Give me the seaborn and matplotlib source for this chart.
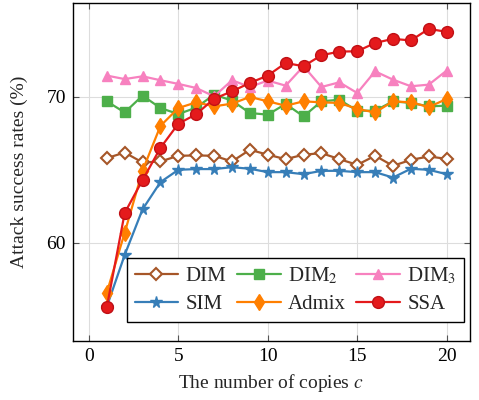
import numpy as np
import pandas as pd
import seaborn as sns
import matplotlib
matplotlib.use("Agg")
import matplotlib.pyplot as plt

copies = list(range(1, 21))
dim = [65.8, 66.18, 65.5, 65.57, 65.96, 65.98, 65.96, 65.57, 66.37, 66.03,
       65.73, 66.03, 66.14, 65.73, 65.34, 65.96, 65.27, 65.68, 65.91, 65.75]
dim2 = [69.68, 68.92, 70.07, 69.22, 68.81, 69.25, 70.14, 69.73, 68.88, 68.77,
        69.5, 68.65, 69.68, 69.79, 69.04, 69.04, 69.68, 69.57, 69.34, 69.38]
dim3 = [71.44, 71.2, 71.39, 71.12, 70.87, 70.59, 70.02, 71.12, 70.66, 71.1,
        70.75, 72.08, 70.66, 70.98, 70.25, 71.73, 71.16, 70.71, 70.82, 71.78]
sim = [55.64, 59.18, 62.3, 64.16, 65.0, 65.05, 65.05, 65.18, 65.07, 64.84,
       64.84, 64.7, 64.93, 64.93, 64.84, 64.84, 64.47, 65.07, 65.0, 64.7]
admix = [56.6, 60.7, 64.95, 68.0, 69.22, 69.61, 69.34, 69.52, 69.98, 69.68,
         69.38, 69.68, 69.61, 69.57, 69.16, 68.92, 69.68, 69.61, 69.29, 69.84]
ssa = [55.6, 62.05, 64.3, 66.5, 68.15, 68.8, 69.86, 70.36, 70.94, 71.44,
       72.3, 72.08, 72.83, 73.08, 73.1, 73.67, 73.95, 73.84, 74.63, 74.43]

names = ["DIM", "SIM", "DIM$_2$", "Admix", "DIM$_3$", "SSA"]
values = [dim, sim, dim2, admix, dim3, ssa]

sns.set_theme(style="whitegrid")
plt.rcParams['font.family'] = ['Liberation Serif', 'DejaVu Serif']
plt.rcParams['mathtext.fontset'] = 'stix'

styles = {
    "DIM": dict(color="#a65628", marker="D", mfc="white", mec="#a65628", ms=6.5, mew=1.5),
    "SIM": dict(color="#377eb8", marker="*", mfc="#377eb8", mec="#377eb8", ms=8.5, mew=1.0),
    "DIM$_2$": dict(color="#4daf4a", marker="s", mfc="#4daf4a", mec="#4daf4a", ms=7.5, mew=1.0),
    "Admix": dict(color="#ff7f00", marker="d", mfc="#ff7f00", mec="#ff7f00", ms=8, mew=1.0),
    "DIM$_3$": dict(color="#f781bf", marker="^", mfc="#f781bf", mec="#f781bf", ms=7.5, mew=1.0),
    "SSA": dict(color="#e41a1c", marker="o", mfc="#e41a1c", mec="#c01015", ms=8.5, mew=1.0),
}

fig = plt.figure(figsize=(4.79, 4.0), dpi=100)
ax = fig.add_axes([0.152, 0.1475, 0.829, 0.845])

for name, vals in zip(names, values):
    df = pd.DataFrame({"c": copies, "v": vals})
    st = styles[name]
    sns.lineplot(data=df, x="c", y="v", ax=ax, color=st["color"], marker=st["marker"],
                 markerfacecolor=st["mfc"], markeredgecolor=st["mec"],
                 markersize=st["ms"], markeredgewidth=st["mew"], linewidth=1.6,
                 label=name)

ax.set_xlim(-0.9, 21.3)
ax.set_ylim(53.3, 76.4)
ax.set_xticks([0, 5, 10, 15, 20])
ax.set_yticks([60, 70])
ax.grid(True, color="#dddddd", linewidth=0.8)
ax.set_facecolor("white")
for s in ax.spines.values():
    s.set_color("black")
    s.set_linewidth(1.0)
ax.tick_params(axis="both", direction="in", length=4, width=0.8, colors="#555555",
               labelcolor="black", labelsize=14, top=True, right=True,
               bottom=True, left=True, pad=5)
ax.set_xlabel("The number of copies $c$", fontsize=14, labelpad=5)
ax.set_ylabel("Attack success rates (%)", fontsize=14, labelpad=13)

leg = ax.legend(loc="lower right", ncol=3, fontsize=15, frameon=True, fancybox=False,
                edgecolor="black", framealpha=1.0, handlelength=2.1,
                columnspacing=0.5, handletextpad=0.35, borderpad=0.35, labelspacing=0.4,
                borderaxespad=0.2, bbox_to_anchor=(0.995, 0.045))
leg.get_frame().set_linewidth(1.0)

fig.savefig("out.png", dpi=100)
